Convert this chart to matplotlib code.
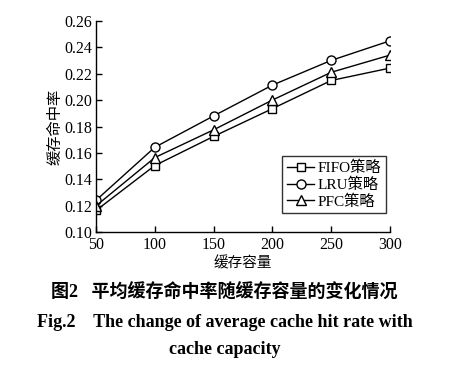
import matplotlib
matplotlib.use('Agg')
import matplotlib.pyplot as plt

# data
capacity = [50, 100, 150, 200, 250, 300]
fifo = [0.1165, 0.1505, 0.1725, 0.1935, 0.2148, 0.2242]
lru = [0.1242, 0.1643, 0.1880, 0.2113, 0.2300, 0.2448]
pfc = [0.1200, 0.1565, 0.1775, 0.2000, 0.2210, 0.2340]
yticks = [0.10, 0.12, 0.14, 0.16, 0.18, 0.20, 0.22, 0.24, 0.26]

plt.rcParams['font.family'] = ['Liberation Serif', 'Noto Sans CJK SC']
plt.rcParams['axes.unicode_minus'] = False

fig = plt.figure(figsize=(4.49, 3.72), dpi=100)
ax = fig.add_axes([0.2138, 0.3755, 0.6548, 0.5688])

ax.plot(capacity, fifo, color='black', lw=1.0, marker='s', ms=5.5,
        mfc='white', mec='black', mew=1.0, label='FIFO策略')
ax.plot(capacity, lru, color='black', lw=1.0, marker='o', ms=6.5,
        mfc='white', mec='black', mew=1.0, label='LRU策略')
ax.plot(capacity, pfc, color='black', lw=1.0, marker='^', ms=6.5,
        mfc='white', mec='black', mew=1.0, label='PFC策略')

ax.set_xlim(50, 300)
ax.set_ylim(0.10, 0.26)
ax.set_xticks(capacity)
ax.set_yticks(yticks)
ax.set_yticklabels(['%.2f' % v for v in yticks])
ax.tick_params(direction='in', length=4, width=1.0, labelsize=11.5)
ax.tick_params(axis='x', pad=3.5)
ax.tick_params(axis='y', pad=3)
ax.spines['top'].set_visible(False)
ax.spines['right'].set_visible(False)
for s in ['left', 'bottom']:
    ax.spines[s].set_linewidth(1.0)

ax.set_xlabel('缓存容量', fontsize=10.5, labelpad=2)
ax.set_ylabel('缓存命中率', fontsize=11, va='center')
ax.yaxis.set_label_coords(-0.138, 0.5)

leg = ax.legend(loc='lower right', bbox_to_anchor=(0.985, 0.09), fontsize=11,
                frameon=True, fancybox=False, edgecolor='black',
                handlelength=1.8, handletextpad=0.2, borderpad=0.3,
                labelspacing=0.15, borderaxespad=0.0)
leg.get_frame().set_linewidth(1.0)

fig.text(0.5, 0.212, '图2   平均缓存命中率随缓存容量的变化情况', ha='center', va='center',
         fontsize=13, fontweight='bold')
fig.text(0.5, 0.133, 'Fig.2    The change of average cache hit rate with', ha='center',
         va='center', fontsize=13, fontweight='bold')
fig.text(0.5, 0.060, 'cache capacity', ha='center', va='center', fontsize=13,
         fontweight='bold')

fig.savefig('out.png', dpi=100)
